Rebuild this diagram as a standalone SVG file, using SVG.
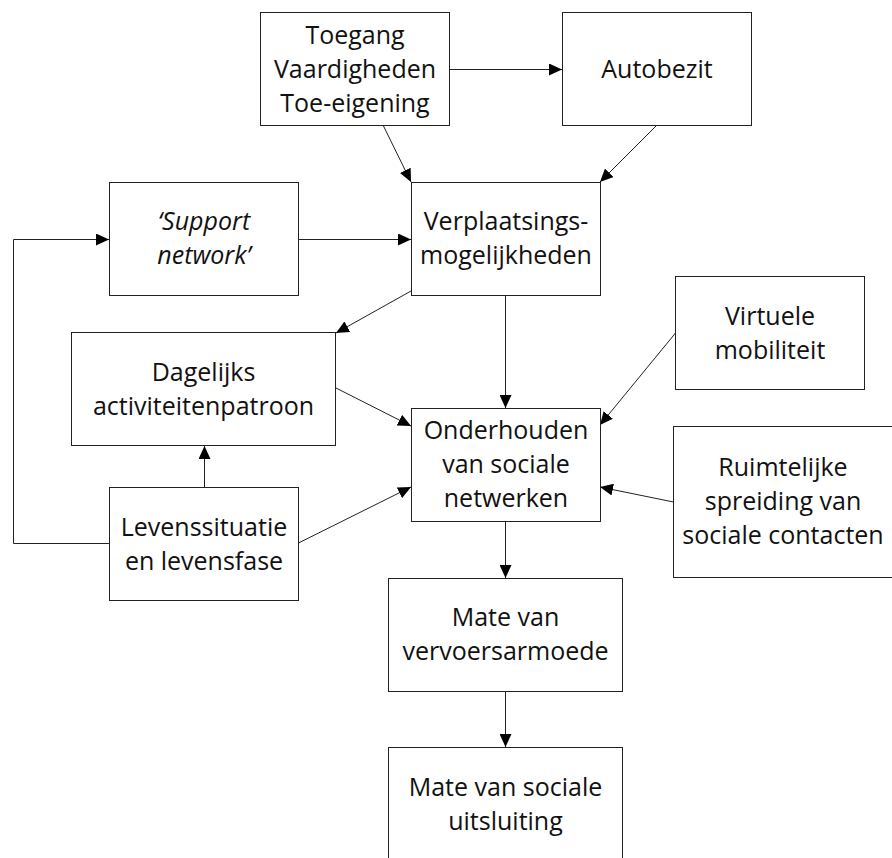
<svg xmlns="http://www.w3.org/2000/svg" width="892" height="858" viewBox="0 0 892 858">
<style>
.box{fill:#fff;stroke:#222;stroke-width:1}
.t{font-family:"Open Sans","Noto Sans",sans-serif;font-size:25px;fill:#111;text-anchor:middle}
.i{font-style:italic}
.c{fill:none;stroke:#222;stroke-width:1}
</style>
<defs>
<marker id="ah" markerUnits="userSpaceOnUse" markerWidth="14" markerHeight="12" refX="13" refY="6" orient="auto">
<path d="M0,0 L13,6 L0,12 z" fill="#000"/>
</marker>
</defs>
<rect width="892" height="858" fill="#fff"/>
<g id="connectors">
<path class="c" marker-end="url(#ah)" d="M449.5,69.5 H562"/>
<path class="c" marker-end="url(#ah)" d="M383,125 L411,182"/>
<path class="c" marker-end="url(#ah)" d="M657,125 L600,182"/>
<path class="c" marker-end="url(#ah)" d="M298.5,239.5 H411"/>
<path class="c" marker-end="url(#ah)" d="M109.5,543.5 H13.5 V239.5 H109"/>
<path class="c" marker-end="url(#ah)" d="M411,291 L336,333"/>
<path class="c" marker-end="url(#ah)" d="M505.5,295.5 V408"/>
<path class="c" marker-end="url(#ah)" d="M336,388 L411,426"/>
<path class="c" marker-end="url(#ah)" d="M298.5,543 L411,487"/>
<path class="c" marker-end="url(#ah)" d="M204.5,487.5 V446"/>
<path class="c" marker-end="url(#ah)" d="M675.5,333 L600,425"/>
<path class="c" marker-end="url(#ah)" d="M673.5,502 L600,487"/>
<path class="c" marker-end="url(#ah)" d="M505.5,521.5 V578"/>
<path class="c" marker-end="url(#ah)" d="M505.5,691.5 V747"/>
</g>
<g id="toegang">
<rect class="box" x="260.5" y="12.5" width="189" height="113"/>
<text class="t" x="355" y="43.5">Toegang</text>
<text class="t" x="355" y="77.5">Vaardigheden</text>
<text class="t" x="355" y="111.5">Toe-eigening</text>
</g>
<g id="autobezit">
<rect class="box" x="562.5" y="12.5" width="189" height="113"/>
<text class="t" x="657" y="77.5">Autobezit</text>
</g>
<g id="support">
<rect class="box" x="109.5" y="182.5" width="189" height="113"/>
<text class="t i" x="204" y="230">‘Support</text>
<text class="t i" x="204" y="264">network’</text>
</g>
<g id="verplaatsing">
<rect class="box" x="411.5" y="182.5" width="189" height="113"/>
<text class="t" x="506" y="230">Verplaatsings-</text>
<text class="t" x="506" y="264">mogelijkheden</text>
</g>
<g id="dagelijks">
<rect class="box" x="71.5" y="332.5" width="264" height="113"/>
<text class="t" x="203.5" y="381">Dagelijks</text>
<text class="t" x="203.5" y="415">activiteitenpatroon</text>
</g>
<g id="levens">
<rect class="box" x="109.5" y="487.5" width="189" height="113"/>
<text class="t" x="204" y="536">Levenssituatie</text>
<text class="t" x="204" y="570">en levensfase</text>
</g>
<g id="onderhouden">
<rect class="box" x="411.5" y="408.5" width="189" height="113"/>
<text class="t" x="506" y="439">Onderhouden</text>
<text class="t" x="506" y="473">van sociale</text>
<text class="t" x="506" y="507">netwerken</text>
</g>
<g id="virtuele">
<rect class="box" x="675.5" y="276.5" width="189" height="113"/>
<text class="t" x="770" y="325">Virtuele</text>
<text class="t" x="770" y="359">mobiliteit</text>
</g>
<g id="ruimtelijke">
<rect class="box" x="673.5" y="426.5" width="225" height="151"/>
<text class="t" x="783" y="476">Ruimtelijke</text>
<text class="t" x="783" y="510">spreiding van</text>
<text class="t" x="783" y="544">sociale contacten</text>
</g>
<g id="vervoersarmoede">
<rect class="box" x="388.5" y="578.5" width="234" height="113"/>
<text class="t" x="505.5" y="626">Mate van</text>
<text class="t" x="505.5" y="660">vervoersarmoede</text>
</g>
<g id="uitsluiting">
<rect class="box" x="388.5" y="747.5" width="234" height="120"/>
<text class="t" x="505.5" y="796">Mate van sociale</text>
<text class="t" x="505.5" y="830">uitsluiting</text>
</g>
</svg>
